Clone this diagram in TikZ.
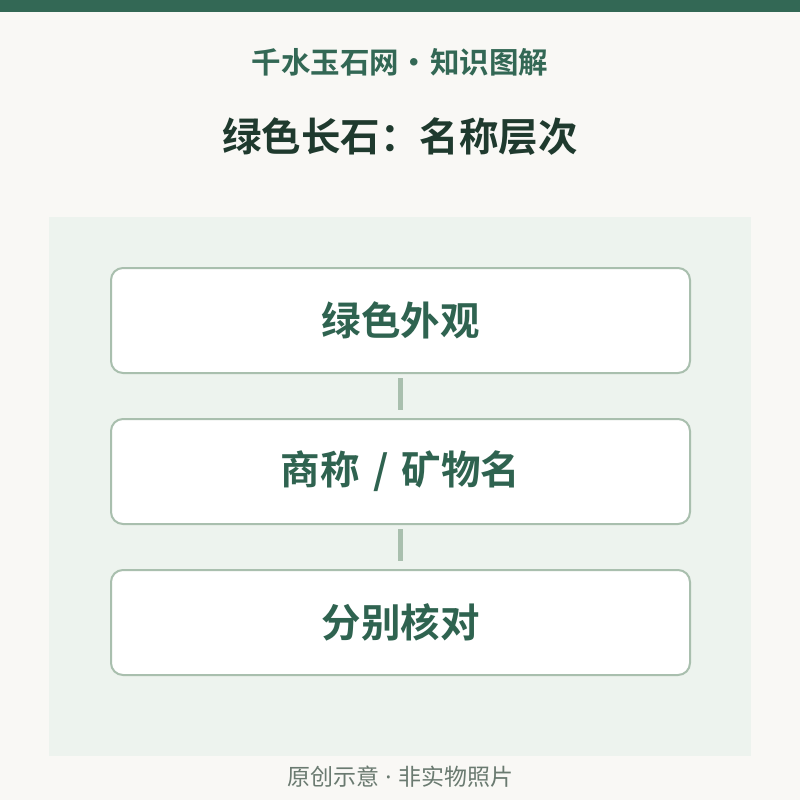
\documentclass[tikz,border=0pt]{standalone}
\usepackage{fontspec}
\newfontfamily\cjk{Noto Sans CJK SC}
\newfontfamily\cjkb{Noto Sans CJK SC Bold}
\newfontfamily\latinsans{Noto Sans}
\definecolor{bgc}{HTML}{F9F8F5}
\definecolor{barc}{HTML}{336855}
\definecolor{panelc}{HTML}{EDF3EE}
\definecolor{edgec}{HTML}{A9BFAE}
\definecolor{titlec}{HTML}{1F3A2E}
\definecolor{boxtextc}{HTML}{2F6350}
\definecolor{footc}{HTML}{6A7A70}
\tikzset{
  levelbox/.style={draw=edgec, line width=2pt, fill=white, rounded corners=12pt,
    minimum width=579pt, minimum height=105pt, inner sep=0pt,
    font=\cjkb\fontsize{39.5}{42}\selectfont, text=boxtextc},
  link/.style={draw=edgec, line width=5pt},
}
\begin{document}
\begin{tikzpicture}[x=1pt,y=-1pt]
\useasboundingbox (0,0) rectangle (800,800);
\fill[bgc] (0,0) rectangle (800,800);
\fill[barc] (0,0) rectangle (800,12);
\fill[panelc] (49,217) rectangle (751,756);
\node[font=\cjkb\fontsize{29.5}{31}\selectfont, text=barc] (sub) at (400,62) {千水玉石网\makebox[31pt]{•}知识图解};
\node[font=\cjkb\fontsize{39.5}{42}\selectfont, text=titlec] (title) at (400,137) {绿色长石：名称层次};
\node[levelbox] (b1) at (400.5,320.5) {绿色外观};
\node[levelbox] (b2) at (400.5,471.5) {商称\makebox[42pt]{/}矿物名};
\node[levelbox] (b3) at (400.5,622.5) {分别核对};
\draw[link] ([yshift=-4pt]b1.south) -- ([yshift=-36pt]b1.south);
\draw[link] ([yshift=-4pt]b2.south) -- ([yshift=-36pt]b2.south);
\node[font=\cjk\fontsize{23}{25}\selectfont, text=footc] (foot) at (400,777) {原创示意\makebox[19pt]{\latinsans ·}非实物照片};
\end{tikzpicture}
\end{document}
